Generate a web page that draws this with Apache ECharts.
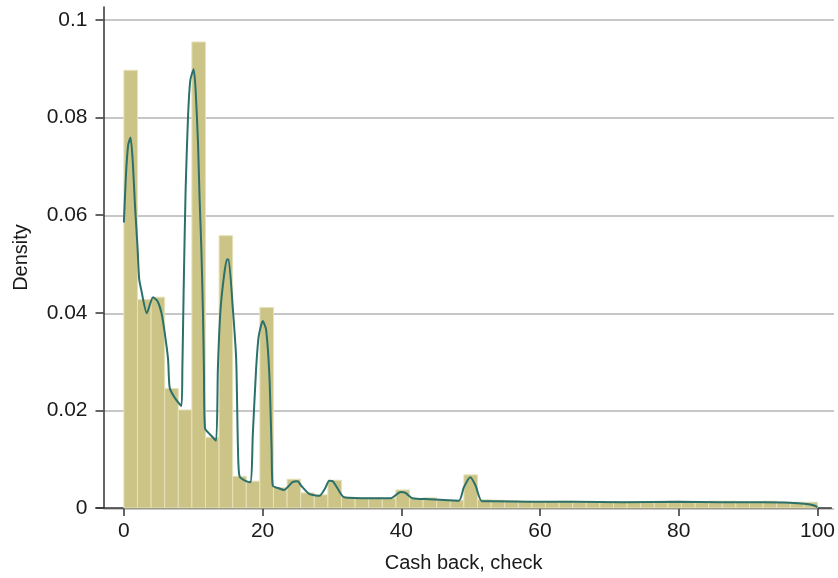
<!DOCTYPE html>
<html>
<head>
<meta charset="utf-8">
<script src="https://cdn.jsdelivr.net/npm/echarts@6/dist/echarts.min.js"></script>
<style>
    html, body { margin: 0; padding: 0; background: #fff; }
    #chart { width: 838px; height: 578px; }
</style>
</head>
<body>
<div id="chart"></div>
<script>
// histogram: 51 bins over 0..100
var binCount = 51;
var binWidth = 100 / binCount;
var binHeights = [
    0.0897, 0.0427, 0.0432, 0.0245, 0.0201, 0.0955, 0.0145, 0.0558, 0.0065, 0.0055,
    0.0411, 0.0042, 0.0059, 0.0031, 0.0027, 0.0057, 0.0022, 0.0021, 0.0021, 0.0020,
    0.0037, 0.0019, 0.0021, 0.0017, 0.0016, 0.0068, 0.0017, 0.0016, 0.0015, 0.0014,
    0.0013, 0.0013, 0.0014, 0.0013, 0.0013, 0.0012, 0.0013, 0.0013, 0.0012, 0.0013,
    0.0014, 0.0013, 0.0012, 0.0014, 0.0014, 0.0013, 0.0013, 0.0014, 0.0012, 0.0012,
    0.0012
];

// kernel density line
var densX = [
    0, 0.3, 0.62, 0.96, 1.29, 1.6, 1.96, 2.2, 2.49, 3.3, 4.2, 4.84, 5.41, 5.89, 6.37,
    6.6, 7.33, 8.29, 8.43, 8.62, 8.9, 9.24, 9.58, 10.06, 10.34, 10.68, 10.92, 11.16, 11.4,
    11.54, 11.7, 12.6, 13.3, 13.55, 13.9, 14.37, 14.85, 15.1, 15.7, 16.19, 16.45, 16.67,
    17.6, 18.3, 18.58, 19.06, 19.44, 20.02, 20.5, 20.98, 21.3, 21.46, 22.4, 23.1, 24.3,
    25.05, 25.6, 26.7, 28.2, 29.0, 29.6, 30.1, 30.56, 31.75, 35.8, 38.5, 39.9, 40.6, 41.6,
    44.0, 48.3, 49.0, 49.95, 50.7, 51.6, 53.5, 58.3, 65, 72, 80, 86, 92, 96, 98.5, 99.5, 100
];
var densY = [
    0.0585, 0.0683, 0.0744, 0.0759, 0.0708, 0.0620, 0.0536, 0.0470, 0.0448, 0.0399, 0.0432, 0.0424, 0.0400, 0.0359, 0.0305,
    0.0247, 0.0226, 0.0209, 0.0284, 0.0448, 0.0652, 0.0799, 0.0877, 0.0899, 0.0857, 0.0751, 0.0632, 0.0536, 0.0400,
    0.0284, 0.0163, 0.0148, 0.0138, 0.0284, 0.0400, 0.0468, 0.0509, 0.0509, 0.0410, 0.0305, 0.0120, 0.0065,
    0.0055, 0.0053, 0.0148, 0.0284, 0.0352, 0.0383, 0.0366, 0.0271, 0.0120, 0.0046, 0.0040, 0.0037, 0.0053,
    0.0055, 0.0045, 0.0029, 0.0025, 0.0040, 0.0056, 0.0055, 0.0046, 0.0022, 0.0020, 0.0020, 0.0033, 0.0031, 0.0020,
    0.0018, 0.0015, 0.0042, 0.0063, 0.0046, 0.0014, 0.0014, 0.0013, 0.0013, 0.0012, 0.0013, 0.0012, 0.0012, 0.0011, 0.0008, 0.0005, 0.0002
];

var xTicks = [0, 20, 40, 60, 80, 100];
var yTicks = [0, 0.02, 0.04, 0.06, 0.08, 0.1];

var histData = [];
for (var i = 0; i < binCount; i++) {
    histData.push([i * binWidth, (i + 1) * binWidth, binHeights[i]]);
}
var lineData = [];
for (var j = 0; j < densX.length; j++) {
    lineData.push([densX[j], densY[j]]);
}

var font = 'Liberation Sans, Arial, sans-serif';
var chart = echarts.init(document.getElementById('chart'));

var option = {
    animation: false,
    grid: [
        {left: 96, right: 4, top: 7, bottom: 69},
        // only for the horizontal grid lines
        {left: 103.5, right: 4, top: 20, bottom: 69}
    ],
    xAxis: [
        {
            type: 'value', gridIndex: 0, min: -4.02, max: 102.0,
            axisLine: {onZero: false, lineStyle: {color: '#333', width: 1.5}},
            axisTick: {customValues: xTicks, length: 8, lineStyle: {color: '#333', width: 1.5}},
            axisLabel: {customValues: xTicks, fontSize: 21, color: '#1a1a1a', fontFamily: font, margin: 13},
            splitLine: {show: false},
            name: 'Cash back, check', nameLocation: 'middle', nameGap: 45,
            nameTextStyle: {fontSize: 20, color: '#1a1a1a', fontFamily: font}
        },
        {
            type: 'value', gridIndex: 1, min: -3, max: 102, show: false
        }
    ],
    yAxis: [
        {
            type: 'value', gridIndex: 0, min: 0, max: 0.10266, offset: -7.5,
            axisLine: {show: true, onZero: false, lineStyle: {color: '#333', width: 1.5}},
            axisTick: {show: true, customValues: yTicks, length: 8, lineStyle: {color: '#333', width: 1.5}},
            axisLabel: {customValues: yTicks, fontSize: 21, color: '#1a1a1a', fontFamily: font, margin: 16},
            splitLine: {show: false},
            name: 'Density', nameLocation: 'middle', nameGap: 72,
            nameTextStyle: {fontSize: 20, color: '#1a1a1a', fontFamily: font}
        },
        {
            type: 'value', gridIndex: 1, min: 0, max: 0.1, interval: 0.02,
            axisLine: {show: false}, axisTick: {show: false}, axisLabel: {show: false},
            splitLine: {show: true, lineStyle: {color: '#b4b4b4', width: 1.5}}
        }
    ],
    series: [
        {
            type: 'custom',
            xAxisIndex: 0, yAxisIndex: 0,
            data: histData,
            encode: {x: [0, 1], y: 2},
            renderItem: function (params, api) {
                var p0 = api.coord([api.value(0), api.value(2)]);
                var p1 = api.coord([api.value(1), 0]);
                return {
                    type: 'rect',
                    shape: {x: p0[0], y: p0[1], width: p1[0] - p0[0], height: p1[1] - p0[1]},
                    style: {fill: '#cbc486', stroke: '#e6e2bb', lineWidth: 1}
                };
            }
        },
        {
            type: 'line',
            xAxisIndex: 0, yAxisIndex: 0,
            data: lineData,
            showSymbol: false,
            smooth: 0.2,
            lineStyle: {color: '#2b706a', width: 2},
            z: 3
        }
    ]
};
chart.setOption(option);
</script>
</body>
</html>
